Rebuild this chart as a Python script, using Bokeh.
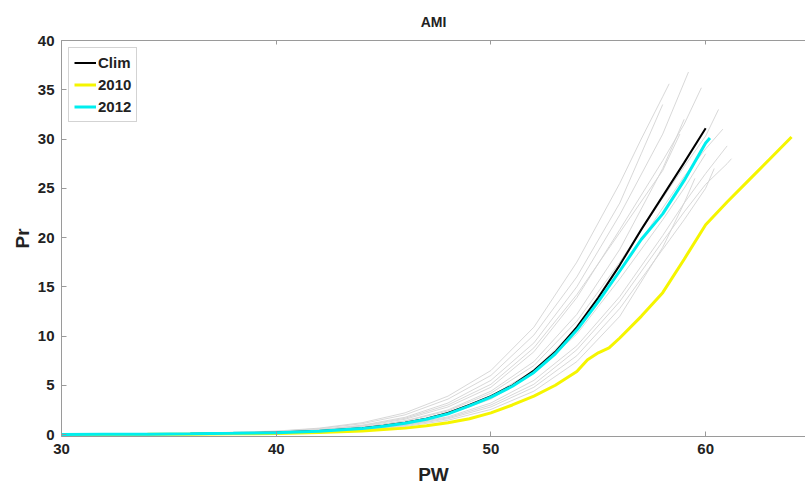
from bokeh.plotting import figure
from bokeh.models import LinearAxis, FixedTicker, Range1d, Legend, LegendItem
from bokeh.embed import file_html
from bokeh.resources import INLINE

# ---- data ----
clim_pw = [30, 32, 34, 36, 38, 40, 42, 44, 45, 46, 47, 48, 49, 50, 51, 52, 53, 54, 55, 56, 57, 58, 59, 60]
clim_pr = [0.0, 0.02, 0.04, 0.07, 0.12, 0.2, 0.35, 0.65, 0.9, 1.2, 1.6, 2.2, 3.0, 3.9, 5.0, 6.5, 8.4, 10.9, 13.9, 17.2, 20.8, 24.2, 27.6, 31.1]

y2012_pw = [30, 32, 34, 36, 38, 40, 42, 44, 45, 46, 47, 48, 49, 50, 51, 52, 53, 54, 55, 56, 57, 58, 59, 60, 60.2]
y2012_pr = [0.0, 0.02, 0.04, 0.07, 0.12, 0.19, 0.33, 0.6, 0.85, 1.15, 1.55, 2.1, 2.9, 3.8, 4.9, 6.3, 8.2, 10.6, 13.5, 16.6, 19.8, 22.4, 25.8, 29.6, 30.1]

y2010_pw = [30, 32, 34, 36, 38, 40, 42, 44, 45, 46, 47, 48, 49, 50, 51, 52, 53, 54, 54.5, 55, 55.5, 56, 57, 58, 59, 60, 61, 62, 63, 64]
y2010_pr = [0.0, 0.01, 0.02, 0.04, 0.07, 0.1, 0.2, 0.35, 0.5, 0.65, 0.9, 1.2, 1.6, 2.2, 3.0, 3.9, 5.0, 6.4, 7.6, 8.3, 8.8, 9.8, 12.0, 14.4, 17.8, 21.3, 23.6, 25.8, 28.0, 30.2]

# ensemble members (grey)
member_pw = [
    [30, 36, 40, 42, 44, 46, 48, 50, 52, 54, 56, 57, 58, 58.3],
    [30, 36, 40, 42, 44, 46, 48, 50, 52, 54, 56, 58, 59.2],
    [30, 36, 40, 42, 44, 46, 48, 50, 52, 54, 56, 58, 59, 59.8],
    [30, 36, 40, 42, 44, 46, 48, 50, 52, 54, 56, 58, 59],
    [30, 36, 40, 42, 44, 46, 48, 50, 52, 54, 56, 58, 59, 60, 60.6],
    [30, 36, 40, 42, 44, 46, 48, 50, 52, 54, 56, 58, 59, 60, 61],
    [30, 36, 40, 42, 44, 46, 48, 50, 52, 54, 56, 58, 59, 60, 60.4],
    [30, 36, 40, 42, 44, 46, 48, 50, 52, 54, 56, 58, 59, 60],
    [30, 36, 40, 42, 44, 46, 48, 50, 52, 54, 56, 58, 58.8],
    [30, 36, 40, 42, 44, 46, 48, 50, 52, 54, 56, 58, 59, 60, 60.8],
    [30, 36, 40, 42, 44, 46, 48, 50, 52, 54, 56, 58, 59, 59.5],
    [30, 36, 40, 42, 44, 46, 48, 50, 52, 54, 56, 58, 59, 60, 61, 61.2],
    [30, 36, 40, 42, 44, 46, 48, 50, 52, 54, 56, 57, 58],
]
member_pr = [
    [0, 0.12, 0.35, 0.65, 1.2, 2.2, 3.9, 6.5, 10.9, 17.5, 25.5, 30.0, 34.3, 35.6],
    [0, 0.1, 0.28, 0.5, 0.95, 1.75, 3.2, 5.5, 9.3, 15.0, 22.3, 30.5, 36.8],
    [0, 0.09, 0.25, 0.45, 0.85, 1.55, 2.8, 4.8, 8.4, 13.9, 20.8, 27.8, 31.5, 35.2],
    [0, 0.08, 0.23, 0.4, 0.75, 1.4, 2.5, 4.4, 7.4, 12.2, 18.8, 27.0, 32.0],
    [0, 0.08, 0.22, 0.38, 0.72, 1.35, 2.4, 4.2, 7.0, 11.5, 17.5, 24.0, 27.2, 30.3, 33.0],
    [0, 0.06, 0.18, 0.3, 0.55, 1.0, 1.8, 3.2, 5.5, 9.0, 14.0, 20.2, 23.5, 26.5, 29.3],
    [0, 0.05, 0.16, 0.28, 0.5, 0.9, 1.6, 2.8, 4.8, 8.0, 12.8, 18.8, 21.8, 25.0, 27.0],
    [0, 0.07, 0.2, 0.33, 0.62, 1.15, 2.05, 3.6, 6.2, 10.2, 15.8, 21.8, 25.0, 28.5],
    [0, 0.09, 0.26, 0.47, 0.9, 1.65, 3.0, 5.1, 8.8, 14.2, 20.5, 26.8, 30.5],
    [0, 0.07, 0.2, 0.35, 0.66, 1.22, 2.2, 3.9, 6.5, 10.8, 16.5, 23.0, 26.2, 29.0, 31.0],
    [0, 0.05, 0.15, 0.26, 0.46, 0.82, 1.45, 2.55, 4.4, 7.4, 12.0, 19.0, 23.5, 26.0],
    [0, 0.06, 0.17, 0.29, 0.52, 0.95, 1.7, 3.0, 5.1, 8.6, 13.5, 19.6, 22.6, 25.4, 27.5, 28.0],
    [0, 0.11, 0.32, 0.6, 1.1, 2.0, 3.6, 6.0, 10.1, 16.0, 23.5, 28.5, 33.5],
]

x_ticks = [30, 40, 50, 60]
y_ticks = [0, 5, 10, 15, 20, 25, 30, 35, 40]

FONT = "Liberation Sans"
TXT = "#222222"
AX = "#9a9a9a"

p = figure(width=805, height=488, x_range=Range1d(30, 64.65), y_range=Range1d(-0.2, 40),
           output_backend="svg", toolbar_location=None, title="AMI",
           min_border_left=61, min_border_right=0, min_border_top=40, min_border_bottom=52)
p.grid.visible = False
p.outline_line_color = None
p.background_fill_color = "white"
p.border_fill_color = "white"

p.title.align = "center"
p.title.text_font = FONT
p.title.text_font_size = "14px"
p.title.text_font_style = "bold"
p.title.text_color = TXT
p.title.standoff = 21
p.title.offset = 0

for ax in (p.xaxis[0], p.yaxis[0]):
    ax.axis_line_color = AX
    ax.major_tick_line_color = AX
    ax.minor_tick_line_color = None
    ax.major_tick_in = 5
    ax.major_tick_out = 0
    ax.major_label_text_font = FONT
    ax.major_label_text_font_size = "15px"
    ax.major_label_text_font_style = "bold"
    ax.major_label_text_color = TXT
    ax.axis_label_text_font = FONT
    ax.axis_label_text_font_size = "19px"
    ax.axis_label_text_font_style = "bold"
    ax.axis_label_text_color = TXT

p.xaxis.ticker = FixedTicker(ticks=x_ticks)
p.yaxis.ticker = FixedTicker(ticks=y_ticks)
p.xaxis.axis_label = "PW"
p.yaxis.axis_label = "Pr"
p.xaxis.major_label_standoff = 7
p.xaxis.axis_label_standoff = 7
p.yaxis.major_label_standoff = 7
p.yaxis.axis_label_standoff = 2

top = LinearAxis(ticker=FixedTicker(ticks=x_ticks), major_label_text_font_size="1px",
                 major_label_text_color=None,
                 major_tick_in=4, major_tick_out=0, major_label_standoff=0,
                 axis_line_color=AX, major_tick_line_color=AX, minor_tick_line_color=None)
p.add_layout(top, "above")

for xs, ys in zip(member_pw, member_pr):
    p.line(xs, ys, line_color="#d4d4d4", line_width=1, line_alpha=0.9)

r_clim = p.line(clim_pw, clim_pr, line_color="black", line_width=2)
r_2010 = p.line(y2010_pw, y2010_pr, line_color="#f5f500", line_width=3)
r_2012 = p.line(y2012_pw, y2012_pr, line_color="#00eeee", line_width=3)

legend = Legend(items=[LegendItem(label="Clim", renderers=[r_clim]),
                       LegendItem(label="2010", renderers=[r_2010]),
                       LegendItem(label="2012", renderers=[r_2012])],
                location="top_left")
legend.margin = 7
legend.padding = 5
legend.spacing = 3
legend.glyph_height = 19
legend.label_height = 19
legend.glyph_width = 22
legend.label_standoff = 2
legend.label_text_font = FONT
legend.label_text_font_size = "15px"
legend.label_text_font_style = "bold"
legend.label_text_color = TXT
legend.border_line_color = "#a8a8a8"
legend.border_line_width = 1
legend.background_fill_color = "white"
legend.background_fill_alpha = 1
p.add_layout(legend, "center")

open("out.html", "w").write(file_html(p, INLINE))
